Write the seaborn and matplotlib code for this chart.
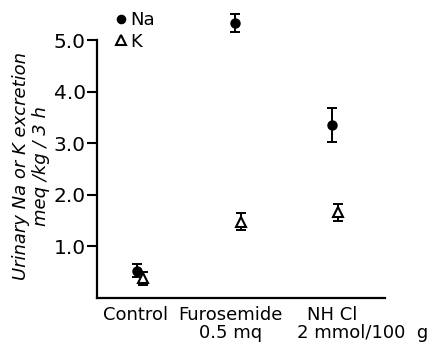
import matplotlib
matplotlib.use("Agg")
import matplotlib.pyplot as plt
import seaborn as sns
import pandas as pd
import numpy as np

categories = ["Control", "Furosemide", "NH Cl"]
cat_line2 = ["", "0.5 mq", "2 mmol/100  g"]
na_mean = [0.53, 5.33, 3.35]
na_err = [0.12, 0.17, 0.33]
k_mean = [0.38, 1.48, 1.66]
k_err = [0.12, 0.17, 0.17]
yticks = [1.0, 2.0, 3.0, 4.0, 5.0]

sns.set_style("ticks")
plt.rcParams['font.family'] = ['DejaVu Sans']
plt.rcParams.update({"text.color": "black", "axes.labelcolor": "black",
                     "xtick.color": "black", "ytick.color": "black",
                     "axes.edgecolor": "black"})

ppu = (298 - 40) / 5.0  # pixels per unit
ytop = 5.6
fig = plt.figure(figsize=(4.3, 3.47), dpi=100)
ax = fig.add_axes([97/430, 1-298/347, (385-97)/430, ytop*ppu/347])

x = np.arange(len(categories), dtype=float)
df = pd.DataFrame({
    "x": np.concatenate([x - 0.03, x + 0.03]),
    "y": na_mean + k_mean,
    "err": na_err + k_err,
    "ion": ["Na"] * 3 + ["K"] * 3,
})

for ion, fc, mk, ms in [("Na", "black", "o", 6), ("K", "white", "^", 7.5)]:
    d = df[df.ion == ion]
    ax.errorbar(d.x, d.y, yerr=d.err, fmt="none", ecolor="black",
                elinewidth=1.4, capsize=3.5, capthick=1.4, zorder=2)
    ax.plot(d.x, d.y, linestyle="none", marker=mk, markersize=ms,
            markerfacecolor=fc, markeredgecolor="black", markeredgewidth=1.5,
            zorder=3, label=ion)

ax.set_xlim(-0.44, 2.51)
ax.set_ylim(0, ytop)
ax.spines["left"].set_bounds(0, 5.0)
ax.set_yticks(yticks)
ax.set_yticklabels([f"{v:.1f}" for v in yticks], fontsize=14.5)
ax.set_xticks([])
ax.tick_params(axis="y", direction="out", length=7, width=1.5, pad=1, colors="black")
for s in ["top", "right"]:
    ax.spines[s].set_visible(False)
for s in ["left", "bottom"]:
    ax.spines[s].set_linewidth(1.6)
    ax.spines[s].set_color("black")

# category labels
trans = ax.get_xaxis_transform()
label_x1 = [-0.04, 0.93, 1.97]
label_x2 = [None, 0.93, 2.28]
y1 = -17 / (ytop * ppu)
y2 = -35 / (ytop * ppu)
for i, c in enumerate(categories):
    ax.text(label_x1[i], y1, c, transform=trans, ha="center", va="center", fontsize=13)
    if cat_line2[i]:
        ax.text(label_x2[i], y2, cat_line2[i], transform=trans, ha="center", va="center", fontsize=13)

fig.text(31/430, 1-166/347, "Urinary Na or K excretion\nmeq /kg / 3 h", fontsize=13,
         style="italic", rotation=90, ha="center", va="center", linespacing=1.15)

leg = ax.legend(loc="upper left", bbox_to_anchor=(116/430, 1-11/347),
                bbox_transform=fig.transFigure, frameon=False, fontsize=13,
                handletextpad=0.2, handlelength=0.6, labelspacing=0.2,
                borderpad=0, borderaxespad=0, markerscale=0.9)

fig.savefig("out.png", dpi=100)
